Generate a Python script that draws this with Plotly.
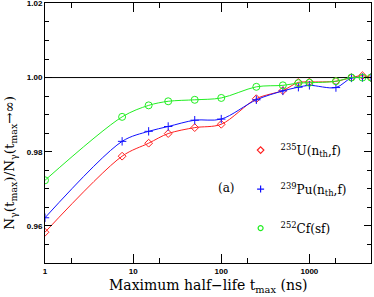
import plotly.graph_objects as go

t_max = [1, 7.5, 15, 25, 50, 100, 250, 500, 750, 1000, 2000, 3000, 4000, 5000]
u235 = [0.9583, 0.9788, 0.9823, 0.9849, 0.9865, 0.9874, 0.9943, 0.9965, 0.9987, 0.9988, 0.9990, 1.0000, 1.0005, 1.0000]
pu239 = [0.9622, 0.9828, 0.9855, 0.9868, 0.9885, 0.9888, 0.9940, 0.9964, 0.9974, 0.9979, 0.9973, 0.9999, 1.0000, 1.0000]
cf252 = [0.9723, 0.9894, 0.9925, 0.9936, 0.9940, 0.9945, 0.9975, 0.9979, 0.9985, 0.9986, 0.9990, 1.0000, 1.0000, 1.0000]

x_ticks = [1, 10, 100, 1000]
x_minor = [2, 20, 200, 2000]
y_ticks = [0.96, 0.98, 1.00, 1.02]

series = [
    ("<sup>235</sup>U(n<sub>th</sub>,f)", u235, "#ff2020", "diamond-open", 6),
    ("<sup>239</sup>Pu(n<sub>th</sub>,f)", pu239, "#1010ff", "cross-thin-open", 6),
    ("<sup>252</sup>Cf(sf)", cf252, "#22ee22", "circle-open", 7),
]

fig = go.Figure()

fig.add_trace(go.Scatter(x=[1, 5000], y=[1.0, 1.0], mode="lines",
                         line=dict(color="black", width=1), showlegend=False, hoverinfo="skip"))

for i, (name, vals, col, sym, sz) in enumerate(series):
    fig.add_trace(go.Scatter(x=t_max, y=vals, mode="lines+markers",
                             line=dict(color=col, width=1, shape="spline", smoothing=0.9),
                             marker=dict(symbol=sym, size=sz, color=col, line=dict(color=col, width=1)),
                             showlegend=False))
    fig.add_trace(go.Scatter(x=[None], y=[None], mode="markers", name=name,
                             marker=dict(symbol=sym, size=5, color=col, line=dict(color=col, width=1.2)),
                             legendgroup=f"g{i}", showlegend=True))

axis_common = dict(showline=True, linecolor="black", linewidth=1, mirror="allticks",
                   ticks="inside", tickcolor="black", showgrid=False, zeroline=False,
                   automargin=False, ticklabeloverflow="allow",
                   tickfont=dict(family="Liberation Sans", size=8, color="black", weight="bold"))

fig.update_xaxes(type="log", range=[0, 3.699], tickvals=x_ticks,
                 ticktext=[str(v) for v in x_ticks], ticklen=9,
                 minor=dict(tickvals=x_minor, ticks="inside", ticklen=5, tickcolor="black"),
                 **axis_common)
fig.update_yaxes(range=[0.95, 1.0201], tickvals=y_ticks,
                 ticktext=[f"{v:.2f}" for v in y_ticks], ticklen=7,
                 minor=dict(dtick=0.005, tick0=0.95, ticks="inside", ticklen=4, tickcolor="black"),
                 **axis_common)

fig.add_annotation(text="Maximum half\u2212life t<sub>max</sub> (ns)", xref="paper", yref="paper",
                   x=0.5, y=-0.088, yanchor="middle", showarrow=False,
                   font=dict(family="DejaVu Serif", size=14, color="black"))
fig.add_annotation(text="N<sub>\u03b3</sub>(t<sub>max</sub>)/N<sub>\u03b3</sub>(t<sub>max</sub>\u2192\u221e)",
                   xref="paper", yref="paper", x=-0.108, y=0.385, xanchor="center", yanchor="middle",
                   textangle=-90, showarrow=False,
                   font=dict(family="DejaVu Serif", size=13.5, color="black"))
fig.add_annotation(text="(a)", xref="paper", yref="paper", x=0.558, y=0.255,
                   showarrow=False, font=dict(family="DejaVu Serif", size=12, color="black"))

fig.update_layout(
    width=374, height=297,
    margin=dict(l=45, r=3, t=3, b=34),
    paper_bgcolor="white", plot_bgcolor="white",
    legend=dict(x=0.6, y=0.49, xanchor="left", yanchor="top",
                bgcolor="rgba(0,0,0,0)", tracegroupgap=20, itemwidth=30,
                font=dict(family="DejaVu Serif", size=12, color="black")),
)

fig.write_html("out.html", config={"displayModeBar": False},
               post_script="document.body.style.margin='0px';document.body.style.overflow='hidden';")
